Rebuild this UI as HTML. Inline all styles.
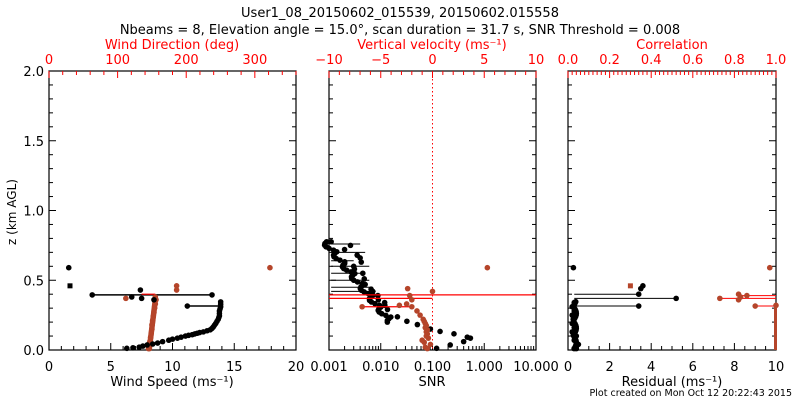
<!DOCTYPE html>
<html><head><meta charset="utf-8"><style>
body{margin:0;background:#fff}
svg{display:block;font-family:"DejaVu Sans","Liberation Sans",sans-serif}
</style></head><body>
<svg id="c" width="800" height="400" viewBox="0 0 800 400">
<text x="400" y="17" font-size="13" text-anchor="middle">User1_08_20150602_015539, 20150602.015558</text>
<text x="400" y="34" font-size="13" text-anchor="middle">Nbeams = 8, Elevation angle = 15.0°, scan duration = 31.7 s, SNR Threshold = 0.008</text>
<text x="16" y="212" font-size="12" text-anchor="middle" transform="rotate(-90 16 212)">z (km AGL)</text>
<text x="792" y="396" font-size="9.5" text-anchor="end">Plot created on Mon Oct 12 20:22:43 2015</text>
</svg>
<script>
// Panel 1: wind speed (black) / wind direction (red)
const wsZ=[0.012,0.016,0.02,0.028,0.036,0.043,0.05,0.06,0.07,0.078,0.085,0.092,0.1,0.105,0.11,0.115,0.12,0.125,0.13,0.138,0.145,0.155,0.165,0.178,0.19,0.205,0.22,0.232,0.245,0.262,0.28,0.295,0.31,0.328,0.345,0.315,0.395,0.395,0.43,0.59,0.46,0.38,0.37,0.36];
const wsVal=[6.3,6.8,7.3,7.6,7.95,8.4,8.8,9.2,9.7,10.0,10.4,10.7,11.05,11.3,11.6,11.8,12.0,12.2,12.5,12.8,13.06,13.2,13.3,13.4,13.5,13.6,13.7,13.75,13.8,13.8,13.8,13.85,13.9,13.9,13.9,11.2,3.5,13.2,7.4,1.6,1.7,6.7,7.5,8.5];
const wdZ=[0.01,0.03,0.06,0.09,0.12,0.15,0.18,0.21,0.24,0.27,0.3,0.33,0.36,0.38,0.46,0.43,0.59,0.37];
const wdVal=[145,146,147,148,149,150,150,151,152,153,154,155,156,155,186,186,322,112];
// Panel 2: SNR (black), vertical velocity (red)
const snrZ=[0.776,0.75,0.68,0.63,0.58,0.51,0.436,0.39,0.34,0.29,0.238,0.206,0.182,0.15,0.133,0.116,0.092,0.085,0.06,0.036,0.012,0.72,0.66,0.6,0.55,0.47,0.42,0.36,0.32];
const snrVal=[0.0011,0.0026,0.0035,0.0042,0.0031,0.0048,0.0065,0.0088,0.0119,0.0135,0.021,0.032,0.051,0.091,0.14,0.26,0.47,0.54,0.40,0.22,0.12,0.002,0.004,0.003,0.0045,0.005,0.007,0.009,0.012];
const vvZ=[0.01,0.02,0.04,0.055,0.07,0.085,0.1,0.115,0.13,0.145,0.16,0.175,0.19,0.205,0.22,0.25,0.28,0.31,0.33,0.39,0.42,0.59,0.31,0.32,0.36,0.44];
const vvVal=[-0.5,-0.7,-0.2,-0.8,-1.0,-0.4,-0.6,-0.5,-0.6,-0.5,-0.7,-0.6,-0.7,-0.8,-0.9,-1.2,-1.5,-2.0,-2.5,-2.2,0.0,5.3,-6.8,-3.2,-2.0,-2.4];
// Panel 3: residual (black), correlation (red)
const resZ=[0.01,0.04,0.07,0.1,0.13,0.16,0.19,0.22,0.25,0.28,0.31,0.34,0.59,0.4,0.37,0.315,0.46,0.44];
const resVal=[0.4,0.5,0.3,0.4,0.2,0.3,0.2,0.25,0.2,0.3,0.2,0.3,0.26,3.4,5.2,3.4,3.6,3.5];
const corZ=[0.59,0.46,0.4,0.39,0.38,0.37,0.36,0.315,0.32];
const corVal=[0.97,0.3,0.82,0.86,0.83,0.73,0.82,0.9,1.0];

const svg=document.getElementById('c');const NS='http://www.w3.org/2000/svg';
function mk(t,a,name,p){const e=document.createElementNS(NS,t);for(const k in a)e.setAttribute(k,a[k]);


(p||svg).appendChild(e);return e;}
const PT=71,PB=350;const zy=z=>PB-z*(PB-PT)/2;
function txt(x,y,s,col,name,anchor){const t=mk('text',{x:x,y:y,'font-size':13,fill:col,'text-anchor':anchor||'middle'},name);t.textContent=s;return t;}
function panel(L,R,id){
  mk('rect',{x:L,y:PT,width:R-L,height:PB-PT,fill:'none',stroke:'#000','stroke-width':1.2},id+'-frame');
  for(let i=0;i<=20;i++){const y=zy(i/10);const len=i%5==0?7:4;
    mk('line',{x1:L,x2:L+len,y1:y,y2:y,stroke:'#000'},id+'-ytick');
    mk('line',{x1:R,x2:R-len,y1:y,y2:y,stroke:'#000'},id+'-ytick-right');}
}
function dot(x,y,col,name,sq){if(sq)return mk('rect',{x:x-2.5,y:y-2.5,width:5,height:5,fill:col},name);return mk('circle',{cx:x,cy:y,r:2.8,fill:col},name);}
const RED='#b5452a',LRED='#f00';
for(let i=0;i<=4;i++){txt(44,zy(i*0.5)+5,(i*0.5).toFixed(1),'#000','y-tick-label','end');}

// ---- Panel 1
const P1L=49,P1R=296;panel(P1L,P1R,'p1');
const x1=v=>P1L+v/20*(P1R-P1L);const d1=v=>P1L+v/360*(P1R-P1L);
for(let v=0;v<=20;v++){const x=x1(v);mk('line',{x1:x,x2:x,y1:PB,y2:PB-(v%5==0?7:4),stroke:'#000'},'p1-xtick');}
for(let v=0;v<=20;v+=5)txt(x1(v),371,String(v),'#000','p1-xtick-label');
for(let v=0;v<=360;v+=20){const x=d1(v);mk('line',{x1:x,x2:x,y1:PT,y2:PT+(v%100==0?7:4),stroke:LRED},'p1-top-tick');}
for(let v=0;v<=300;v+=100)txt(d1(v),64,String(v),LRED,'p1-top-tick-label');
txt(172,386,'Wind Speed (ms⁻¹)','#000','p1-x-axis-title');
txt(172,49,'Wind Direction (deg)',LRED,'p1-top-axis-title');
mk('line',{x1:x1(3.5),x2:x1(13.2),y1:zy(0.395),y2:zy(0.395),stroke:'#000','stroke-width':1.5},'p1-speed-spike-line');
mk('line',{x1:x1(11.2),x2:x1(13.9),y1:zy(0.315),y2:zy(0.315),stroke:'#000','stroke-width':1.5},'p1-speed-spike-line');
mk('line',{x1:d1(135),x2:d1(155),y1:zy(0.4),y2:zy(0.4),stroke:LRED,'stroke-width':1.2},'p1-direction-line');
wdVal.forEach((v,i)=>dot(d1(v),zy(wdZ[i]),RED,'p1-direction-point'));
for(let z=0.01;z<0.35;z+=0.012)dot(d1(146+z*25),zy(z),RED,'p1-direction-point');
wsVal.forEach((v,i)=>dot(x1(v),zy(wsZ[i]),'#000','p1-speed-point',i==40));

// ---- Panel 2
const P2L=329,P2R=536;panel(P2L,P2R,'p2');
const x2=v=>P2L+(Math.log10(v)+3)/4*(P2R-P2L);const v2=v=>P2L+(v+10)/20*(P2R-P2L);
for(let d=-3;d<1;d++)for(let m=1;m<=9;m++){const x=x2(m*Math.pow(10,d));mk('line',{x1:x,x2:x,y1:PB,y2:PB-(m==1?7:4),stroke:'#000'},'p2-xtick');}
['0.001','0.010','0.100','1.000','10.000'].forEach((s,i)=>txt(x2(Math.pow(10,i-3)),371,s,'#000','p2-xtick-label'));
for(let v=-10;v<=10;v++){const x=v2(v);mk('line',{x1:x,x2:x,y1:PT,y2:PT+(v%5==0?7:4),stroke:LRED},'p2-top-tick');}
[-10,-5,0,5,10].forEach(v=>txt(v2(v),64,v<0?'−'+(-v):String(v),LRED,'p2-top-tick-label'));
txt(432,386,'SNR','#000','p2-x-axis-title');
txt(432,49,'Vertical velocity (ms⁻¹)',LRED,'p2-top-axis-title');
mk('line',{x1:v2(0),x2:v2(0),y1:PT,y2:PB,stroke:LRED,'stroke-dasharray':'1.5,2.5'},'p2-zero-velocity-line');
[0.76,0.7,0.64,0.6,0.55,0.5,0.45,0.42].forEach((z,i)=>mk('line',{x1:x2(0.0011),x2:x2([0.004,0.005,0.003,0.006,0.005,0.006,0.007,0.008][i]),y1:zy(z),y2:zy(z),stroke:'#000'},'p2-snr-line'));
snrVal.forEach((v,i)=>dot(x2(v),zy(snrZ[i]),'#000','p2-snr-point'));
for(let z=0.2;z<0.78;z+=0.012)dot(x2(Math.pow(10,-3+ (0.78-z)*2.2 - 0.3*Math.abs(Math.sin(z*40))*0.5)),zy(z),'#000','p2-snr-point');
mk('line',{x1:P2L,x2:P2R,y1:zy(0.395),y2:zy(0.395),stroke:LRED,'stroke-width':1.2},'p2-velocity-line');
mk('line',{x1:P2L,x2:v2(0),y1:zy(0.37),y2:zy(0.37),stroke:LRED,'stroke-width':1.2},'p2-velocity-line');
mk('line',{x1:v2(-6.8),x2:v2(-2),y1:zy(0.31),y2:zy(0.31),stroke:LRED,'stroke-width':1.2},'p2-velocity-line');
vvVal.forEach((v,i)=>dot(v2(v),zy(vvZ[i]),RED,'p2-velocity-point'));

// ---- Panel 3
const P3L=568,P3R=776;panel(P3L,P3R,'p3');
const x3=v=>P3L+v/10*(P3R-P3L);const c3=v=>P3L+v*(P3R-P3L);
for(let v=0;v<=10;v+=0.5){const x=x3(v);mk('line',{x1:x,x2:x,y1:PB,y2:PB-(v%2==0?7:4),stroke:'#000'},'p3-xtick');}
for(let v=0;v<=10;v+=2)txt(x3(v),371,String(v),'#000','p3-xtick-label');
for(let v=0;v<=50;v++){const x=c3(v/50);mk('line',{x1:x,x2:x,y1:PT,y2:PT+(v%10==0?7:4),stroke:LRED},'p3-top-tick');}
for(let v=0;v<=5;v++)txt(c3(v/5),64,(v/5).toFixed(1),LRED,'p3-top-tick-label');
txt(672,386,'Residual (ms⁻¹)','#000','p3-x-axis-title');
txt(672,49,'Correlation',LRED,'p3-top-axis-title');
mk('line',{x1:x3(0.3),x2:x3(3.4),y1:zy(0.4),y2:zy(0.4),stroke:'#000'},'p3-residual-line');
mk('line',{x1:x3(0.3),x2:x3(5.2),y1:zy(0.37),y2:zy(0.37),stroke:'#000'},'p3-residual-line');
mk('line',{x1:x3(0.3),x2:x3(3.4),y1:zy(0.315),y2:zy(0.315),stroke:'#000'},'p3-residual-line');
mk('line',{x1:c3(0.73),x2:P3R,y1:zy(0.37),y2:zy(0.37),stroke:LRED},'p3-correlation-line');
mk('line',{x1:c3(0.82),x2:P3R,y1:zy(0.39),y2:zy(0.39),stroke:LRED},'p3-correlation-line');
mk('line',{x1:c3(0.9),x2:P3R,y1:zy(0.315),y2:zy(0.315),stroke:LRED},'p3-correlation-line');
mk('rect',{x:P3R-2,y:zy(0.32),width:3,height:zy(0)-zy(0.32),fill:RED},'p3-correlation-bar');
resVal.forEach((v,i)=>dot(x3(v),zy(resZ[i]),'#000','p3-residual-point'));
for(let z=0.01;z<0.35;z+=0.012)dot(x3(0.25+0.15*Math.abs(Math.sin(z*30))),zy(z),'#000','p3-residual-point');
corVal.forEach((v,i)=>dot(c3(v),zy(corZ[i]),RED,'p3-correlation-point',i==1));
</script>
</body></html>
